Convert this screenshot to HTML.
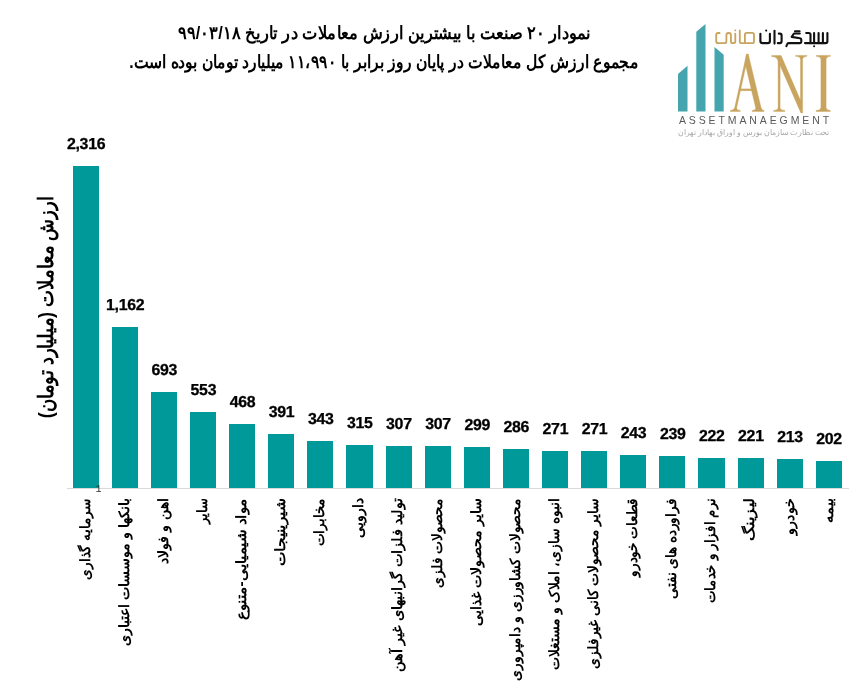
<!DOCTYPE html>
<html lang="fa">
<head>
<meta charset="utf-8">
<title>نمودار ۲۰ صنعت با بیشترین ارزش معاملات</title>
<style>
html,body{margin:0;padding:0;background:#fff;}
body{width:860px;height:685px;overflow:hidden;font-family:"Liberation Sans",sans-serif;}
svg{display:block;will-change:transform;}
</style>
</head>
<body>
<svg width="860" height="685" viewBox="0 0 860 685">
<g fill="#009999" shape-rendering="crispEdges"><rect x="73" y="166" width="26" height="322"/><rect x="112" y="327" width="26" height="161"/><rect x="151" y="392" width="26" height="96"/><rect x="190" y="412" width="26" height="76"/><rect x="229" y="424" width="26" height="64"/><rect x="268" y="434" width="26" height="54"/><rect x="307" y="441" width="26" height="47"/><rect x="346" y="445" width="27" height="43"/><rect x="386" y="446" width="26" height="42"/><rect x="425" y="446" width="26" height="42"/><rect x="464" y="447" width="26" height="41"/><rect x="503" y="449" width="26" height="39"/><rect x="542" y="451" width="26" height="37"/><rect x="581" y="451" width="26" height="37"/><rect x="620" y="455" width="26" height="33"/><rect x="659" y="456" width="26" height="32"/><rect x="698" y="458" width="27" height="30"/><rect x="738" y="458" width="26" height="30"/><rect x="777" y="459" width="26" height="29"/><rect x="816" y="461" width="26" height="27"/></g>
<rect x="66.5" y="488" width="782.0" height="1" fill="#d9d9d9" shape-rendering="crispEdges"/>
<g font-family="'Liberation Sans', sans-serif" font-weight="bold" font-size="15.9px" text-rendering="geometricPrecision" text-anchor="middle" fill="#000" stroke="#000" stroke-width="0.3" letter-spacing="-0.3"><text x="86.1" y="149.0">2,316</text><text x="125.2" y="310.0">1,162</text><text x="164.3" y="375.0">693</text><text x="203.4" y="395.0">553</text><text x="242.5" y="407.0">468</text><text x="281.6" y="417.0">391</text><text x="320.7" y="424.0">343</text><text x="359.8" y="428.0">315</text><text x="398.9" y="429.0">307</text><text x="438.0" y="429.0">307</text><text x="477.2" y="430.0">299</text><text x="516.3" y="432.0">286</text><text x="555.4" y="434.0">271</text><text x="594.5" y="434.0">271</text><text x="633.6" y="438.0">243</text><text x="672.7" y="439.0">239</text><text x="711.8" y="441.0">222</text><text x="750.9" y="441.0">221</text><text x="790.0" y="442.0">213</text><text x="829.1" y="444.0">202</text></g>
<text x="95.4" y="491.9" font-family="'Liberation Mono', monospace" font-size="10px" fill="#333">1</text>
<text x="384.3" y="38.6" direction="rtl" text-anchor="middle" font-family="'Liberation Sans', sans-serif" font-weight="bold" font-size="18px" fill="#000" textLength="413" lengthAdjust="spacingAndGlyphs">نمودار  ۲۰ صنعت با بیشترین ارزش معاملات در تاریخ ۹۹/۰۳/۱۸</text>
<text x="383.7" y="67.9" direction="rtl" text-anchor="middle" font-family="'Liberation Sans', sans-serif" font-weight="bold" font-size="18px" fill="#000" textLength="509" lengthAdjust="spacingAndGlyphs">مجموع ارزش  کل معاملات در پایان روز برابر با ۱۱،۹۹۰ میلیارد تومان بوده است.</text>
<text transform="translate(53.1 307.3) rotate(-90)" direction="rtl" text-anchor="middle" font-family="'Liberation Sans', sans-serif" font-weight="bold" font-size="21px" fill="#000" textLength="222" lengthAdjust="spacingAndGlyphs">ارزش معاملات (میلیارد تومان)</text>
<g font-family="'Liberation Sans', sans-serif" font-weight="bold" font-size="14px" fill="#000" text-anchor="end">
<text transform="translate(89.56 498) rotate(-90)" textLength="82" lengthAdjust="spacingAndGlyphs">سرمایه گذاری</text>
<text transform="translate(128.66 498) rotate(-90)" textLength="148" lengthAdjust="spacingAndGlyphs">بانکها و موسسات اعتباری</text>
<text transform="translate(167.78 498) rotate(-90)" textLength="66" lengthAdjust="spacingAndGlyphs">اهن و فولاد</text>
<text transform="translate(206.88 498) rotate(-90)" textLength="26" lengthAdjust="spacingAndGlyphs">سایر</text>
<text transform="translate(246.00 498) rotate(-90)" textLength="122" lengthAdjust="spacingAndGlyphs">مواد شیمیایی-متنوع</text>
<text transform="translate(285.11 498) rotate(-90)" textLength="68" lengthAdjust="spacingAndGlyphs">شیرینیجات</text>
<text transform="translate(324.22 498) rotate(-90)" textLength="48" lengthAdjust="spacingAndGlyphs">مخابرات</text>
<text transform="translate(363.32 498) rotate(-90)" textLength="40" lengthAdjust="spacingAndGlyphs">دارویی</text>
<text transform="translate(402.44 498) rotate(-90)" textLength="174" lengthAdjust="spacingAndGlyphs">تولید فلزات گرانبهای غیر آهن</text>
<text transform="translate(441.55 498) rotate(-90)" textLength="90" lengthAdjust="spacingAndGlyphs">محصولات فلزی</text>
<text transform="translate(480.65 498) rotate(-90)" textLength="128" lengthAdjust="spacingAndGlyphs">سایر محصولات غذایی</text>
<text transform="translate(519.76 498) rotate(-90)" textLength="183" lengthAdjust="spacingAndGlyphs">محصولات کشاورزی و دامپروری</text>
<text transform="translate(558.88 498) rotate(-90)" textLength="172" lengthAdjust="spacingAndGlyphs">انبوه سازی، املاک و مستغلات</text>
<text transform="translate(597.99 498) rotate(-90)" textLength="171" lengthAdjust="spacingAndGlyphs">سایر محصولات کانی غیرفلزی</text>
<text transform="translate(637.10 498) rotate(-90)" textLength="79" lengthAdjust="spacingAndGlyphs">قطعات خودرو</text>
<text transform="translate(676.21 498) rotate(-90)" textLength="101" lengthAdjust="spacingAndGlyphs">فراورده های نفتی</text>
<text transform="translate(715.31 498) rotate(-90)" textLength="105" lengthAdjust="spacingAndGlyphs">نرم افزار و خدمات</text>
<text transform="translate(754.42 498) rotate(-90)" textLength="43" lengthAdjust="spacingAndGlyphs">لیزینگ</text>
<text transform="translate(793.53 498) rotate(-90)" textLength="37" lengthAdjust="spacingAndGlyphs">خودرو</text>
<text transform="translate(832.64 498) rotate(-90)" textLength="25" lengthAdjust="spacingAndGlyphs">بیمه</text>
</g>
<g fill="#45a5ae"><polygon points="678,74.1 687.5,65.8 687.5,111.4 678,111.4"/><polygon points="696.3,31.8 705.5,24.1 705.5,111.4 696.3,111.4"/><polygon points="714.5,47.1 723.7,54.7 723.7,111.4 714.5,111.4"/></g>
<g role="img" aria-label="ANI" fill="#c8a45e" stroke="#c8a45e" stroke-width="0.4" stroke-linejoin="round"><path d="M746.5 54.3L748.4 54.3L736.4 109L734.4 109Z"/><path d="M746.6 54.3L748.3 54.3L761.6 109.9L756.2 109.9L745 63Z"/><path d="M739.5 88.9H753V90.7H739.5Z"/><path d="M730.3 111.4V110.5Q733.6 110.2 734.5 108.2L736.5 108.2Q736.9 110.2 740.3 110.5V111.4Z"/><path d="M752.1 111.4V110.5Q755.6 110.2 756 108.2L761.2 108.2Q761.6 110.2 764.1 110.5V111.4Z"/><path d="M778.1 56.2H780.1V110H778.1Z"/><path d="M771.6 55.6H781.1L800.5 100.3V57H802.6V112.9H800.9L777 58.4Q775.6 56.8 771.6 56.5Z"/><path d="M795.6 55.4H806.9V56.3Q803.3 56.6 802.6 58.6H800.5Q800 56.6 795.6 56.3Z"/><path d="M773.7 111.4V110.5Q777.5 110.2 778.1 108.2H780.1Q780.6 110.2 784.9 110.5V111.4Z"/><path d="M820.9 56H826.1V111H820.9Z"/><path d="M816.1 55.4H830.4V56.3Q826.8 56.6 826.1 58.8H820.9Q820.3 56.6 816.1 56.3Z"/><path d="M816.1 111.4V110.5Q820.3 110.2 820.9 108H826.1Q826.8 110.2 830.4 110.5V111.4Z"/></g>
<g role="img" aria-label="سبدگردان" fill="none" stroke="#111" stroke-width="2.1" stroke-linecap="round" stroke-linejoin="round"><path d="M827.4 33V41.3Q827.4 43.1 825.6 43.1H805"/><path d="M822.9 33V43.1"/><path d="M818.6 33V43.1"/><path d="M814.1 33V43.1"/><path d="M806.2 33H808.7Q810.5 33 810.5 34.8V43.1"/><path d="M799.8 33.5H794L791.7 36.9L799.9 38.2Q801.3 38.4 801.3 39.8V41.8Q801.3 43.1 800 43.1H788.8Q787.4 43.1 787 44.5L786.4 46.2"/><path d="M795 31.2H799.6"/><path d="M778.8 33.6H779.8Q781.6 33.6 781.6 35.4V41.3Q781.6 43.1 779.8 43.1H777.8"/><path d="M774.5 30.8V43.6"/><path d="M760.4 33.8V40.9Q760.4 43.1 762.6 43.1H767.7Q769.9 43.1 769.9 40.9V33.8"/><circle cx="814.1" cy="46.2" r="1.05" fill="#111" stroke="none"/><circle cx="766.2" cy="30.6" r="1.05" fill="#111" stroke="none"/></g>
<g role="img" aria-label="مانی" fill="none" stroke="#c8a45e" stroke-width="1.8" stroke-linecap="round" stroke-linejoin="round"><path d="M739.8 30.3V41.4Q739.8 43.2 741.6 43.2H752.2Q754 43.2 754 41.4V34.7Q754 32.9 752.2 32.9H746.7Q744.9 32.9 744.9 34.7V43.2"/><path d="M735.3 33.6V41.2Q735.3 43.2 733.3 43.2H732.9Q730.9 43.2 730.9 41.2V35Q730.9 33 728.9 33H728.4Q726.4 33 726.4 35V41.2Q726.4 43.2 724.4 43.2H718.2Q716.2 43.2 716.2 41.2V35Q716.2 33 718.2 33H719.6"/><circle cx="735.3" cy="30.4" r="0.95" fill="#c8a45e" stroke="none"/></g>
<text x="678.9" y="124.2" font-family="'Liberation Sans', sans-serif" font-size="10.5px" fill="#5a5a5a" textLength="150.2" lengthAdjust="spacing">ASSETMANAEGMENT</text>
<text x="753.8" y="134.5" direction="rtl" text-anchor="middle" font-family="'Liberation Sans', sans-serif" font-size="7.5px" fill="#a8a8a8" textLength="151" lengthAdjust="spacingAndGlyphs">تحت نظارت سازمان بورس و اوراق بهادار تهران</text>
</svg>
</body>
</html>
